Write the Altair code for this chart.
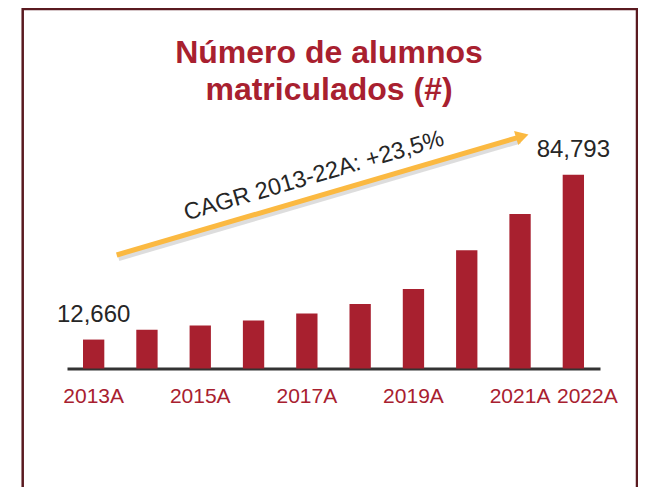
import json
import altair as alt
import pandas as pd

# ---- data ----
years = ["2013A", "2014A", "2015A", "2016A", "2017A", "2018A", "2019A", "2020A", "2021A", "2022A"]
students = [12660, 16990, 18850, 21020, 24050, 28250, 34740, 51760, 67650, 84793]
shown_labels = ["2013A", "2015A", "2017A", "2019A", "2021A", "2022A"]
labelled_years = ["2013A", "2022A"]
title_lines = ["Número de alumnos", "matriculados (#)"]
cagr_text = "CAGR 2013-22A: +23,5%"

df = pd.DataFrame({"year": years, "students": students})

RED = "#A8202F"
FRAME = "#5A1A20"
ARROW = "#FBB941"
DARK = "#262626"
FONT = "Liberation Sans"

W, H = 630, 479

x_scale = alt.Scale(domain=years, range=[59, 592], paddingInner=0.6, paddingOuter=0.3)
y_scale = alt.Scale(domain=[0, max(students)], range=[360.5, 166.7], nice=False, zero=True)

x_axis = alt.Axis(
    title=None,
    orient="bottom",
    offset=-118.5,
    ticks=False,
    grid=False,
    domainColor="#333333",
    domainWidth=3,
    labelColor=RED,
    labelFont=FONT,
    labelFontSize=21,
    labelAngle=0,
    labelPadding=34,
    labelBaseline="alphabetic",
    labelOverlap=False,
    labelExpr="indexof(%s, datum.value) >= 0 ? datum.label : ''" % json.dumps(shown_labels),
    labelOffset={"condition": {"test": "datum.value === '2022A'", "value": 14}, "value": 0},
)

one = alt.Data(values=[{}])

frame = alt.Chart(one).mark_rect(fill="white", fillOpacity=0, stroke=FRAME, strokeWidth=2.5).encode(
    x=alt.value(14.7), x2=alt.value(629), y=alt.value(1), y2=alt.value(600)
)

bars = alt.Chart(df).mark_bar(color=RED).encode(
    x=alt.X("year:N", scale=x_scale, axis=x_axis, sort=years),
    y=alt.Y("students:Q", scale=y_scale, axis=None),
)

value_labels = alt.Chart(df).transform_filter(
    alt.FieldOneOfPredicate(field="year", oneOf=labelled_years)
).mark_text(dy=-18, baseline="alphabetic", align="center", fontSize=24, color=DARK, font=FONT).encode(
    x=alt.X("year:N", scale=x_scale, sort=years),
    y=alt.Y("students:Q", scale=y_scale),
    text=alt.Text("students:Q", format=","),
)

title = alt.Chart(one).mark_text(
    text=title_lines, font=FONT, fontSize=32, fontWeight="bold", color=RED,
    align="center", baseline="alphabetic", lineHeight=37,
).encode(x=alt.value(321), y=alt.value(55))

arrow_shadow = alt.Chart(one).mark_rule(color="#777777", opacity=0.25, strokeWidth=6).encode(
    x=alt.value(110.5), y=alt.value(250), x2=alt.value(512), y2=alt.value(132.5)
)
arrow_line = alt.Chart(one).mark_rule(color=ARROW, strokeWidth=5).encode(
    x=alt.value(108.7), y=alt.value(247), x2=alt.value(510.5), y2=alt.value(129.4)
)
arrow_head = alt.Chart(one).mark_point(shape="triangle-right", filled=True, color=ARROW, opacity=1, size=220, angle=343.7).encode(
    x=alt.value(514.3), y=alt.value(128.2)
)

cagr = alt.Chart(one).mark_text(
    text=cagr_text, font=FONT, fontSize=23.5, color=DARK, angle=343.7,
    align="center", baseline="middle",
).encode(x=alt.value(306), y=alt.value(168))

chart = alt.layer(
    frame, bars, value_labels, title, arrow_shadow, arrow_line, arrow_head, cagr
).properties(
    width=W, height=H, padding=0, autosize=alt.AutoSizeParams(type="none"), background="white"
).configure_view(stroke=None)

chart.save("out.html", embed_options={"renderer": "svg", "actions": False})
